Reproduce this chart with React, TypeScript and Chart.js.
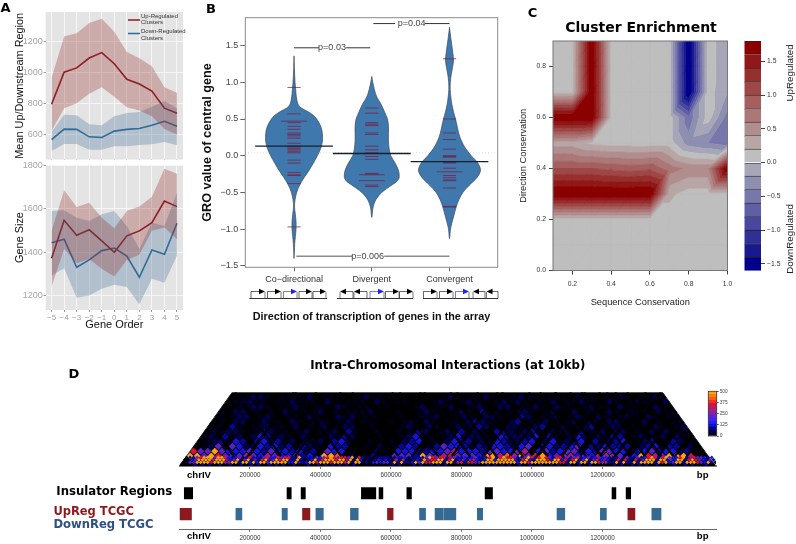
import React, { useEffect, useRef } from "react";
import { Chart, registerables } from "chart.js";

Chart.register(...registerables);

/* ---------- Panel A ---------- */
const GENE_ORDER = [-5, -4, -3, -2, -1, 0, 1, 2, 3, 4, 5];
const UP_MEAN = [793, 1000, 1028, 1092, 1127, 1055, 955, 924, 878, 768, 735];
const UP_HIGH = [965, 1231, 1252, 1318, 1345, 1262, 1131, 1090, 1038, 903, 868];
const UP_LOW = [623, 768, 800, 861, 903, 841, 774, 753, 716, 633, 598];
const DOWN_MEAN = [565, 633, 631, 583, 579, 620, 631, 637, 658, 683, 652];
const DOWN_HIGH = [616, 726, 722, 664, 658, 716, 737, 743, 778, 814, 768];
const DOWN_LOW = [492, 537, 537, 500, 500, 523, 523, 531, 535, 550, 529];
const SIZE_UP_MEAN = [1373, 1548, 1479, 1504, 1453, 1400, 1476, 1499, 1537, 1637, 1611];
const SIZE_UP_HIGH = [1499, 1687, 1609, 1629, 1560, 1511, 1591, 1611, 1657, 1786, 1763];
const SIZE_UP_LOW = [1243, 1415, 1350, 1369, 1324, 1289, 1365, 1389, 1500, 1515, 1460];
const SIZE_DOWN_MEAN = [1444, 1461, 1331, 1365, 1408, 1420, 1383, 1285, 1411, 1391, 1534];
const SIZE_DOWN_HIGH = [1591, 1594, 1560, 1545, 1576, 1591, 1522, 1415, 1537, 1522, 1675];
const SIZE_DOWN_LOW = [1293, 1327, 1191, 1201, 1232, 1250, 1240, 1160, 1278, 1260, 1385];
const A_TOP_TICKS = [600, 800, 1000, 1200];
const A_BOTTOM_TICKS = [1200, 1400, 1600, 1800];

/* ---------- Panel B ---------- */
const B_CATEGORIES = ["Co\u2212directional", "Divergent", "Convergent"];
const B_Y_TICKS = [-1.5, -1, -0.5, 0, 0.5, 1, 1.5];
const V1_Y = [1.36, 1.2, 1.0, 0.9, 0.8, 0.7, 0.65, 0.6, 0.55, 0.5, 0.4, 0.3, 0.2, 0.1, 0, -0.1, -0.2, -0.3, -0.4, -0.5, -0.6, -0.7, -0.8, -0.9, -1.0, -1.1, -1.2, -1.3, -1.4];
const V1_D = [0, 1, 3, 5, 7, 12, 22, 42, 58, 68, 80, 85, 85, 80, 70, 58, 45, 30, 17, 8, 3, 1.5, 4, 6, 6, 4, 2, 1, 0];
const V2_Y = [1.08, 1.0, 0.9, 0.8, 0.7, 0.6, 0.5, 0.4, 0.3, 0.2, 0.1, 0, -0.1, -0.2, -0.3, -0.35, -0.4, -0.5, -0.6, -0.7, -0.84];
const V2_D = [0, 3, 8, 15, 28, 38, 47, 50, 50, 50, 52, 57, 70, 80, 82, 75, 60, 30, 12, 4, 0];
const V3_Y = [1.75, 1.6, 1.4, 1.3, 1.2, 1.1, 1.0, 0.9, 0.8, 0.7, 0.6, 0.5, 0.4, 0.3, 0.2, 0.1, 0, -0.1, -0.2, -0.3, -0.4, -0.5, -0.6, -0.7, -0.8, -0.9, -1.0, -1.13];
const V3_D = [0, 4, 10, 12, 9, 5, 2.5, 2, 4, 7, 12, 18, 23, 28, 36, 48, 65, 85, 93, 82, 60, 40, 28, 20, 14, 8, 3, 0];
const OBS_1 = [0.93, 0.57, 0.45, 0.4, 0.36, 0.31, 0.29, 0.27, 0.24, 0.17, 0.13, 0.12, 0.1, 0.08, 0.06, 0.04, -0.06, -0.1, -0.23, -0.26, -0.27, -0.38, -0.97];
const OBS_1_WIDE = [0.47];
const OBS_2 = [0.65, 0.58, 0.45, 0.43, 0.41, 0.31, 0.29, 0.13, 0.08, 0.04, 0.03, -0.01, -0.05, -0.24, -0.25, -0.4, -0.42];
const OBS_2_WIDE = [-0.26, -0.34];
const OBS_3 = [1.32, 0.5, 0.31, 0.22, 0.09, 0, -0.01, -0.02, -0.08, -0.09, -0.1, -0.17, -0.27, -0.3, -0.33, -0.34, -0.44, -0.69, -0.7];
const OBS_3_WIDE = [-0.22];
const B_MEANS = [0.13, 0.03, -0.08];
const B_REFERENCE = 0.04;

/* ---------- Panel C ---------- */
const SEQ_CONS = [0.1, 0.2, 0.3, 0.4, 0.5, 0.6, 0.7, 0.8, 0.9, 1.0];
const DIR_CONS = [0, 0.1, 0.2, 0.3, 0.4, 0.5, 0.6, 0.7, 0.8, 0.9];
const ENRICH_00 = [0.1, 0.1, 0.1, 0.1, 0.1, 0.1, 0.1, 0.1, 0.1, 0.1];
const ENRICH_01 = [0.1, 0.1, 0.1, 0.1, 0.1, 0.1, 0.1, 0.1, 0.1, 0.1];
const ENRICH_02 = [0.1, 0.1, 0.1, 0.1, 0.1, 0.1, 0.1, 0.1, 0.1, 0.1];
const ENRICH_03 = [1.85, 1.85, 1.85, 1.85, 1.85, 1.85, 0.25, 0.1, 0.1, 0.1];
const ENRICH_04 = [1.0, 1.0, 1.0, 0.95, 0.9, 0.95, 0.7, 0.55, 0.55, 1.85];
const ENRICH_05 = [0.3, 0.3, 0.15, 0.1, 0.1, 0.1, 0.1, -0.3, -0.4, -0.5];
const ENRICH_06 = [1.85, 1.85, 1.85, 0.1, 0.1, 0.1, 0.1, -0.55, 0.1, -0.5];
const ENRICH_07 = [0.1, 0.1, 1.85, 0.1, 0.1, 0.1, 0.1, -1.7, 0.1, -0.2];
const ENRICH_08 = [0.1, 0.1, 1.85, 0.1, 0.1, 0.1, 0.1, -1.7, 0.1, -0.15];
const ENRICH_09 = [0.1, 0.1, 1.85, 0.1, 0.1, 0.1, 0.1, -1.7, 0.1, -0.15];
const ENRICH = [ENRICH_00, ENRICH_01, ENRICH_02, ENRICH_03, ENRICH_04, ENRICH_05, ENRICH_06, ENRICH_07, ENRICH_08, ENRICH_09];
const LEVELS = [-1.6, -1.4, -1.2, -1.0, -0.8, -0.6, -0.4, -0.2, 0, 0.2, 0.4, 0.6, 0.8, 1.0, 1.2, 1.4, 1.6, 1.8];
const LEVEL_COLORS = [
  "#00008b", "#181891", "#2f2f98", "#47479e", "#5f5fa5", "#7777ab", "#8e8eb1", "#a6a6b8",
  "#bebebe", "#b8a6a6", "#b18e8e", "#ab7777", "#a55f5f", "#9e4747", "#982f2f", "#911818", "#8b0000",
];
const C_TICKS = [0.2, 0.4, 0.6, 0.8, 1.0];
const C_Y_TICKS = [0, 0.2, 0.4, 0.6, 0.8];
const BAR_TICKS = [-1.5, -1, -0.5, 0, 0.5, 1, 1.5];

/* ---------- Panel D ---------- */
const BP_TICKS = [200000, 400000, 600000, 800000, 1000000, 1200000];
const INSULATORS = [[13600, 37400], [305000, 317000], [345000, 357000], [516000, 557000], [566000, 577000], [645000, 658000], [867000, 888000], [1227000, 1238000], [1267000, 1280000]];
const UP_TCGC = [[1000, 34000], [349000, 370000], [590000, 606000], [1272000, 1292000]];
const DOWN_TCGC = [[160000, 177000], [291000, 306000], [387000, 408000], [485000, 507000], [681000, 698000], [725000, 748000], [750000, 784000], [845000, 860000], [1071000, 1093000], [1194000, 1211000], [1340000, 1366000]];
const HEAT_LEVELS = ["#000000", "#000018", "#00004c", "#060694", "#1414dc", "#5a20c8", "#a02088", "#e01030", "#ff5a10", "#ffa010"];
const HEAT_LEGEND = ["#000020", "#000050", "#000090", "#1010d0", "#2020ff", "#4020ff", "#6020d8", "#8020b0", "#a02088", "#c01860", "#e01030", "#f03020", "#ff5a10", "#ff8010", "#ffa010"];
const HEAT_TICKS = [0, 125, 250, 375, 500];
const HEAT_FINE = [
  "0001303030 0300300301 3030130303 0030013013 0303031303 0000110110 3030013031 1303030011 0111001303 0303003013 0030030310 3003003011 1003030030 3030031000 300303101300",
  "1255999979 9966993994 9499599999 4494349979 9979997929 9232454553 9393349597 7999399367 3775599999 9999949979 9999999773 9939939966 6339393393 9999397945 993999754931",
  "0145999969 9954592593 5379459799 3393234947 9997995929 4121343432 6362234395 7799379345 3564349949 9999437943 9997499473 7935935745 4237273273 5999399454 99379754352",
  "0335799959 9743452373 3357447577 3293233545 7975775927 3121233322 4342233359 7577355334 3453337937 9775335973 7975377353 5734534544 3235253253 4797379544 7935755434",
];
const HEAT_COARSE_2 = "9959755565 4654453419 9802013115 5539556755 5499686957 9456645476 6514976599 9710";
const HEAT_COARSE_3 = "7559544454 3534342305 4401002104 4423445644 4355445604 5345524355 4403453442 310";
const HEAT_COARSE_4 = "0125154224 3423132104 3300102013 4302354431 3244324503 4234513243 3302340331 20";
const HEAT_COARSE_5 = "0123143034 2312021203 4200100102 3401024331 2143223402 4123403123 4012301320 1";
const HEAT_COARSE_6 = "1213120243 1210210121 3200010012 4110124222 1043222403 1024212133 0120120210";
const HEAT_COARSE_7 = "0212210132 1101201120 3100100101 3201213121 0332123102 1203112022 010212011";
const HEAT_COARSE_8 = "1103101221 1020112012 2001000121 0210121232 1022112301 2012301220 11021012";
const HEAT_COARSE_9 = "0102201211 0210121012 0110010120 2101102321 1023011201 1202102210 1201011";
const HEAT_COARSE_10 = "1012201210 1102100212 0110001001 1210121022 1013201120 1210210121 021011";
const HEAT_COARSE_11 = "1022110102 1011201011 1200010012 1101210311 0122101201 2011021021 10211";
const HEAT_COARSE_12 = "0011221011 2101102101 1001000120 1120012102 2011210211 0121102110 1210";
const HEAT_COARSE_13 = "0122110112 1110210111 0210110001 2101211012 1210112011 2110210121 102";
const HEAT_COARSE_14 = "0112210111 1201110012 1101001000 1210112101 1211011102 1101121011 21";
const HEAT_COARSE = [HEAT_COARSE_2, HEAT_COARSE_3, HEAT_COARSE_4, HEAT_COARSE_5, HEAT_COARSE_6, HEAT_COARSE_7, HEAT_COARSE_8, HEAT_COARSE_9, HEAT_COARSE_10, HEAT_COARSE_11, HEAT_COARSE_12, HEAT_COARSE_13, HEAT_COARSE_14];
const HEAT_OUTLINE = [[0, 0], [150000, 15], [1370000, 15], [1520000, 0]];
const DOMAIN_BOUNDARIES = [174000, 308000, 478000, 535000, 640000, 753000, 844000, 918000, 994000, 1065000, 1173000, 1216000, 1258000, 1298000, 1340000, 1386000, 1420000];
const CHR_END = 1522000;

/* ---------- gene glyphs under panel B (start, end, highlighted) ---------- */
const GENE_GROUPS = [
  { base: [249.5, 327], genes: [[251, 265, 0], [267.5, 281, 0], [283.5, 297, 1], [299, 312, 0], [313, 326, 0]] },
  { base: [337, 413], genes: [[353, 340, 0], [367, 354, 0], [370, 384, 1], [385.5, 399, 0], [399.5, 413, 0]] },
  { base: [423, 498], genes: [[423.5, 437, 0], [439.5, 453, 0], [455.5, 469, 1], [485, 473, 0], [498, 486.5, 0]] },
];

const SANS = "'Liberation Sans', Arial, sans-serif";
const DEJA = "'DejaVu Sans', sans-serif";

/* ---------- helpers ---------- */
const xy = (xs: number[], ys: number[]) => xs.map((x, i) => ({ x, y: ys[i] }));
const fixedTicks = (list: number[]) => (s: any) => {
  s.ticks = list.map((value) => ({ value }));
};
const fitW = (w: number) => (s: any) => {
  s.width = w;
};
const fitH = (h: number) => (s: any) => {
  s.height = h;
};

const panelBg = {
  id: "panelBg",
  beforeDraw(chart: any, _a: any, o: any) {
    if (!o.color) return;
    const { left, top, width, height } = chart.chartArea;
    chart.ctx.fillStyle = o.color;
    chart.ctx.fillRect(left, top, width, height);
  },
};
const frame = {
  id: "frame",
  afterDatasetsDraw(chart: any, _a: any, o: any) {
    if (!o.color) return;
    const { left, top, width, height } = chart.chartArea;
    chart.ctx.save();
    chart.ctx.strokeStyle = o.color;
    chart.ctx.lineWidth = o.width || 1;
    chart.ctx.strokeRect(left, top, width, height);
    chart.ctx.restore();
  },
};

function clipAbove(p: number[][], level: number, sign: number) {
  const out: number[][] = [];
  for (let i = 0; i < p.length; i++) {
    const a = p[i];
    const b = p[(i + 1) % p.length];
    const ina = sign * (a[2] - level) >= 0;
    const inb = sign * (b[2] - level) >= 0;
    if (ina) out.push(a);
    if (ina !== inb) {
      const t = (level - a[2]) / (b[2] - a[2]);
      out.push([a[0] + t * (b[0] - a[0]), a[1] + t * (b[1] - a[1]), level]);
    }
  }
  return out;
}
const contour = {
  id: "contour",
  beforeDatasetsDraw(chart: any) {
    const { ctx, scales } = chart;
    const { left, top, width, height } = chart.chartArea;
    ctx.save();
    ctx.beginPath();
    ctx.rect(left, top, width, height);
    ctx.clip();
    ctx.lineWidth = 0.6;
    ctx.lineJoin = "round";
    LEVEL_COLORS.forEach((color, k) => {
      const lo = k === 0 ? -9 : LEVELS[k];
      const hi = k === LEVEL_COLORS.length - 1 ? 9 : LEVELS[k + 1];
      ctx.beginPath();
      for (let j = 0; j < DIR_CONS.length - 1; j++) {
        for (let i = 0; i < SEQ_CONS.length - 1; i++) {
          const P = (a: number, b: number) => [
            scales.x.getPixelForValue(SEQ_CONS[a]),
            scales.y.getPixelForValue(DIR_CONS[b]),
            ENRICH[b][a],
          ];
          const tris = [
            [P(i, j), P(i + 1, j), P(i + 1, j + 1)],
            [P(i, j), P(i + 1, j + 1), P(i, j + 1)],
          ];
          tris.forEach((t) => {
            let poly = clipAbove(t, lo, 1);
            if (poly.length) poly = clipAbove(poly, hi, -1);
            if (poly.length < 3) return;
            ctx.moveTo(poly[0][0], poly[0][1]);
            poly.slice(1).forEach((q) => ctx.lineTo(q[0], q[1]));
            ctx.closePath();
          });
        }
      }
      ctx.fillStyle = color;
      ctx.strokeStyle = color;
      ctx.fill();
      ctx.stroke();
    });
    ctx.restore();
  },
};

const violin = (center: number, ys: number[], ds: number[]) => {
  const left = ys.map((y, i) => ({ x: center - ds[i] / 233, y }));
  const right = ys.map((y, i) => ({ x: center + ds[i] / 233, y })).reverse();
  return [...left, ...right.slice(1)];
};
const segments = (center: number, ys: number[], half: number) =>
  ys.flatMap((y) => [{ x: center - half, y }, { x: center + half, y }, { x: NaN, y: NaN }]);

const P_LINES = [
  { y: 1.47, a: [1, 1.32], b: [1.67, 1.98], c: "#333", w: 1 },
  { y: 1.8, a: [2.02, 2.3], b: [2.68, 3], c: "#333", w: 1 },
  { y: -1.37, a: [1.03, 1.75], b: [2.16, 3], c: "#8c8c8c", w: 1.6 },
];

const CANVASES: Record<string, { x: number; y: number; w: number; h: number }> = {
  aTop: { x: 0, y: 0, w: 190, h: 166 },
  aBottom: { x: 0, y: 155, w: 190, h: 180 },
  b: { x: 200, y: 0, w: 300, h: 330 },
  c: { x: 500, y: 0, w: 282, h: 315 },
  bar: { x: 740, y: 30, w: 56, h: 250 },
  heat: { x: 150, y: 350, w: 596, h: 140 },
  heatLegend: { x: 703, y: 385, w: 40, h: 58 },
  tracks: { x: 150, y: 480, w: 596, h: 64 },
};

function buildConfigs(): Record<string, any> {
  const RED = "#8b1a1f";
  const BLUE = "#2f6a96";
  const RED_F = "rgba(150,40,40,0.30)";
  const BLUE_F = "rgba(60,110,150,0.30)";
  const lineSet = (
    uh: number[], ul: number[], um: number[], dh: number[], dl: number[], dm: number[],
  ) => [
    { data: xy(GENE_ORDER, uh), fill: "+1", backgroundColor: RED_F, borderWidth: 0, pointRadius: 0 },
    { data: xy(GENE_ORDER, ul), borderWidth: 0, pointRadius: 0 },
    { data: xy(GENE_ORDER, dh), fill: "+1", backgroundColor: BLUE_F, borderWidth: 0, pointRadius: 0 },
    { data: xy(GENE_ORDER, dl), borderWidth: 0, pointRadius: 0 },
    { data: xy(GENE_ORDER, um), borderColor: RED, borderWidth: 1.6, pointRadius: 0 },
    { data: xy(GENE_ORDER, dm), borderColor: BLUE, borderWidth: 1.6, pointRadius: 0 },
  ];
  const aScales = (ticks: number[], min: number, max: number, title: string, titlePad: number, mb: number, showX: boolean) => ({
    x: {
      type: "linear",
      min: -5.47,
      max: 5.48,
      afterBuildTicks: fixedTicks(GENE_ORDER),
      afterFit: fitH(mb),
      border: { display: false },
      grid: { color: "#f6f6f6", lineWidth: 1, tickLength: showX ? 2 : 0, tickColor: "#999" },
      ticks: {
        display: showX,
        autoSkip: false,
        maxRotation: 0,
        font: { family: SANS, size: 8 },
        color: "#a0a0a0",
        padding: 1,
        callback: (v: number) => (v < 0 ? "\u2212" + Math.abs(v) : String(v)),
      },
      title: showX
        ? { display: true, text: "Gene Order", font: { family: SANS, size: 11 }, color: "#111", padding: { top: 0, bottom: 3 } }
        : { display: false },
    },
    y: {
      min,
      max,
      afterBuildTicks: fixedTicks(ticks),
      afterFit: fitW(45.7),
      border: { display: false },
      grid: { color: "#f6f6f6", lineWidth: 1, tickLength: 2, tickColor: "#999" },
      ticks: { font: { family: SANS, size: 9 }, color: "#a6a6a6", padding: 1, callback: (v: number) => String(v) },
      title: { display: true, text: title, font: { family: SANS, size: 10.9 }, color: "#111", padding: { top: titlePad, bottom: 0 } },
    },
  });
  const base = {
    responsive: false,
    animation: false,
    events: [],
    plugins: { legend: { display: false }, tooltip: { enabled: false } },
  };
  const withPlugins = (p: any) => ({ ...base.plugins, ...p });

  const heatFinePts: any[] = [];
  const heatFineCols: string[] = [];
  HEAT_FINE.forEach((row, r) => {
    row.replace(/ /g, "").split("").forEach((ch, i) => {
      heatFinePts.push({ x: (i + 0.5 + r / 2) * 10000, y: (r + 0.5) * 0.5 });
      heatFineCols.push(HEAT_LEVELS[+ch]);
    });
  });
  const heatCoarsePts: any[] = [];
  const heatCoarseCols: string[] = [];
  HEAT_COARSE.forEach((row, k) => {
    const r = k + 2;
    row.replace(/ /g, "").split("").slice(0, 76 - r).forEach((ch, c) => {
      heatCoarsePts.push({ x: (c + 0.5 + r / 2) * 20000, y: r });
      heatCoarseCols.push(HEAT_LEVELS[+ch]);
    });
  });
  const domainVs = DOMAIN_BOUNDARIES.map((b) => {
    const up = Math.min(15, b / 20000);
    const ur = Math.min(15, (1520000 - b) / 20000);
    return [{ x: b - up * 10000, y: up }, { x: b, y: 0 }, { x: b + ur * 10000, y: ur }];
  });

  const bpAxis = (mb: number, borderColor: string, borderW: number) => ({
    type: "linear",
    min: 0,
    max: CHR_END,
    afterBuildTicks: fixedTicks(BP_TICKS),
    afterFit: fitH(mb),
    border: { display: true, color: borderColor, width: borderW },
    grid: { drawOnChartArea: false, tickLength: 3, tickColor: "#555", tickWidth: 0.8 },
    ticks: { font: { family: SANS, size: 6.3 }, color: "#333", padding: 2, maxRotation: 0, autoSkip: false, callback: (v: number) => String(v) },
  });

  const trackBars = (list: number[][], yv: number, color: string) =>
    list.map(([s, e]) => ({
      data: [{ x: [s, e], y: yv }],
      backgroundColor: color,
      borderWidth: 0,
      barThickness: 11.5,
      grouped: false,
    }));

  return {
    aTop: {
      type: "line",
      data: { datasets: lineSet(UP_HIGH, UP_LOW, UP_MEAN, DOWN_HIGH, DOWN_LOW, DOWN_MEAN) },
      plugins: [panelBg],
      options: {
        ...base,
        layout: { autoPadding: false, padding: { top: 12, right: 7, left: 0, bottom: 0 } },
        plugins: withPlugins({ panelBg: { color: "#e4e4e4" } }),
        scales: aScales(A_TOP_TICKS, 436, 1389, "Mean Up/Downstream Region", 13, 1, false),
      },
    },
    aBottom: {
      type: "line",
      data: { datasets: lineSet(SIZE_UP_HIGH, SIZE_UP_LOW, SIZE_UP_MEAN, SIZE_DOWN_HIGH, SIZE_DOWN_LOW, SIZE_DOWN_MEAN) },
      plugins: [panelBg],
      options: {
        ...base,
        layout: { autoPadding: false, padding: { top: 10, right: 7, left: 0, bottom: 0 } },
        plugins: withPlugins({ panelBg: { color: "#e4e4e4" } }),
        scales: aScales(A_BOTTOM_TICKS, 1134, 1803, "Gene Size", 13, 25, true),
      },
    },
    b: {
      type: "scatter",
      data: {
        datasets: [
          { data: [{ x: 0.37, y: B_REFERENCE }, { x: 3.62, y: B_REFERENCE }], showLine: true, borderColor: "#ddd", borderWidth: 1, borderDash: [1, 2], pointRadius: 0, order: 6 },
          ...[violin(1, V1_Y, V1_D), violin(2, V2_Y, V2_D), violin(3, V3_Y, V3_D)].map((d) => ({
            data: d, showLine: true, fill: "shape", tension: 0.3, backgroundColor: "#3f78ad", borderColor: "#3b4a58", borderWidth: 0.7, pointRadius: 0, order: 5,
          })),
          ...[
            segments(1, OBS_1, 0.085), segments(1, OBS_1_WIDE, 0.165),
            segments(2, OBS_2, 0.085), segments(2, OBS_2_WIDE, 0.165),
            segments(3, OBS_3, 0.085), segments(3, OBS_3_WIDE, 0.165),
          ].map((d) => ({ data: d, showLine: true, borderColor: "rgba(125,25,60,0.72)", borderWidth: 1, pointRadius: 0, order: 4 })),
          ...B_MEANS.map((m, i) => ({
            data: [{ x: i + 0.5, y: m }, { x: i + 1.5, y: m }], showLine: true, borderColor: "#14202c", borderWidth: 1.3, pointRadius: 0, order: 3,
          })),
          ...P_LINES.map((p) => ({
            data: [{ x: p.a[0], y: p.y }, { x: p.a[1], y: p.y }, { x: NaN, y: NaN }, { x: p.b[0], y: p.y }, { x: p.b[1], y: p.y }],
            showLine: true, borderColor: p.c, borderWidth: p.w, pointRadius: 0, order: 2,
          })),
        ],
      },
      plugins: [frame],
      options: {
        ...base,
        layout: { autoPadding: false, padding: { top: 17.7, right: 2.3, left: 0, bottom: 0 } },
        plugins: withPlugins({ frame: { color: "#8a8a8a", width: 1 } }),
        scales: {
          x: {
            type: "linear", min: 0.373, max: 3.62,
            afterBuildTicks: fixedTicks([1, 2, 3]),
            afterFit: fitH(62.7),
            border: { display: false },
            grid: { drawOnChartArea: false, tickLength: 4, tickColor: "#666" },
            ticks: { font: { family: SANS, size: 9 }, color: "#333", padding: 3, maxRotation: 0, autoSkip: false, callback: (v: number) => B_CATEGORIES[v - 1] },
            title: { display: true, text: "Direction of transcription of genes in the array", font: { family: SANS, size: 10.8, weight: "bold" }, color: "#111", padding: { top: 0, bottom: 6 } },
          },
          y: {
            min: -1.52, max: 1.88,
            afterBuildTicks: fixedTicks(B_Y_TICKS),
            afterFit: fitW(45.3),
            border: { display: false },
            grid: { drawOnChartArea: false, tickLength: 5, tickColor: "#666" },
            ticks: { font: { family: SANS, size: 9 }, color: "#444", padding: 2, callback: (v: number) => (v < 0 ? "\u2212" + Math.abs(v).toFixed(1) : v.toFixed(1)) },
            title: { display: true, text: "GRO value of central gene", font: { family: SANS, size: 12.7, weight: "bold" }, color: "#111", padding: { top: 0, bottom: 0 } },
          },
        },
      },
    },
    c: {
      type: "scatter",
      data: { datasets: [{ data: [], pointRadius: 0 }] },
      plugins: [contour, frame],
      options: {
        ...base,
        layout: { autoPadding: false, padding: { top: 0, right: 0, left: 0, bottom: 0 } },
        plugins: withPlugins({
          frame: { color: "#777", width: 1 },
          title: { display: true, text: "Cluster Enrichment", font: { family: DEJA, size: 14, weight: "bold" }, color: "#000", padding: { top: 20, bottom: 4.2 } },
        }),
        scales: {
          x: {
            type: "linear", min: 0.1, max: 1.0,
            afterBuildTicks: fixedTicks(C_TICKS),
            afterFit: fitH(44.5),
            border: { display: false },
            grid: { drawOnChartArea: false, tickLength: 4, tickColor: "#444" },
            ticks: { font: { family: SANS, size: 6.8 }, color: "#333", padding: 6, maxRotation: 0, autoSkip: false, callback: (v: number) => v.toFixed(1) },
            title: { display: true, text: "Sequence Conservation", font: { family: SANS, size: 9.3 }, color: "#222", padding: { top: 0, bottom: 7 } },
          },
          y: {
            min: 0, max: 0.9,
            afterBuildTicks: fixedTicks(C_Y_TICKS),
            afterFit: fitW(53),
            border: { display: false },
            grid: { drawOnChartArea: false, tickLength: 4, tickColor: "#444" },
            ticks: { font: { family: SANS, size: 6.8 }, color: "#333", padding: 3, callback: (v: number) => v.toFixed(1) },
            title: { display: true, text: "Direction Conservation", font: { family: SANS, size: 9.3 }, color: "#222", padding: { top: 17.6, bottom: 0 } },
          },
          rightGap: {
            axis: "y", position: "right", display: true, min: 0, max: 0.9,
            afterFit: fitW(54.5),
            border: { display: false },
            grid: { display: false },
            ticks: { display: false },
          },
        },
      },
    },
    bar: {
      type: "bar",
      data: {
        labels: [""],
        datasets: LEVEL_COLORS.map((color, k) => ({
          data: [[LEVELS[k], LEVELS[k + 1]]],
          backgroundColor: color,
          borderColor: "#222",
          borderWidth: { top: 0.8, bottom: 0, left: 0, right: 0 },
          borderSkipped: false,
          barPercentage: 1,
          categoryPercentage: 1,
          grouped: false,
        })),
      },
      options: {
        ...base,
        layout: { autoPadding: false, padding: { top: 11, left: 4.3, right: 0, bottom: 9.3 } },
        scales: {
          x: { display: false },
          y: {
            position: "right", min: -1.6, max: 1.8,
            afterBuildTicks: fixedTicks(BAR_TICKS),
            afterFit: fitW(35),
            border: { display: false },
            grid: { drawOnChartArea: false, tickLength: 4, tickColor: "#444" },
            ticks: { font: { family: SANS, size: 6.8 }, color: "#333", padding: 2, callback: (v: number) => (v < 0 ? "\u2212" + Math.abs(v).toFixed(1) : v.toFixed(1)) },
          },
        },
      },
    },
    heat: {
      type: "scatter",
      data: {
        datasets: [
          { data: xy(HEAT_OUTLINE.map((p) => p[0]), HEAT_OUTLINE.map((p) => p[1])), showLine: true, fill: "shape", backgroundColor: "#000", borderColor: "#2a2a2a", borderWidth: 1, pointRadius: 0, order: 5 },
          { data: heatCoarsePts, pointStyle: "rectRot", pointRadius: 3.6, pointBorderWidth: 0, pointBackgroundColor: heatCoarseCols, order: 4 },
          ...domainVs.map((d) => ({ data: d, showLine: true, borderColor: "rgba(0,0,0,0.88)", borderWidth: 2.2, pointRadius: 0, order: 3 })),
          { data: heatFinePts, pointStyle: "rectRot", pointRadius: 1.9, pointBorderWidth: 0, pointBackgroundColor: heatFineCols, order: 1 },
        ],
      },
      options: {
        ...base,
        layout: { autoPadding: false, padding: { top: 0, right: 30, left: 29.5, bottom: 0 } },
        plugins: withPlugins({
          title: { display: true, text: "Intra-Chromosomal Interactions (at 10kb)", font: { family: DEJA, size: 11.7, weight: "bold" }, color: "#000", padding: { top: 9.4, bottom: 18.7 } },
        }),
        scales: {
          x: bpAxis(24, "#7a7a7a", 2),
          y: { display: false, min: 0, max: 15 },
        },
      },
    },
    heatLegend: {
      type: "bar",
      data: {
        labels: [""],
        datasets: HEAT_LEGEND.map((color, k) => ({
          data: [[(k * 500) / HEAT_LEGEND.length, ((k + 1) * 500) / HEAT_LEGEND.length]],
          backgroundColor: color,
          borderWidth: 0,
          barPercentage: 1,
          categoryPercentage: 1,
          grouped: false,
        })),
      },
      plugins: [frame],
      options: {
        ...base,
        layout: { autoPadding: false, padding: { top: 6.3, left: 5.3, right: 0, bottom: 7 } },
        plugins: withPlugins({ frame: { color: "#333", width: 0.8 } }),
        scales: {
          x: { display: false },
          y: {
            position: "right", min: 0, max: 500,
            afterBuildTicks: fixedTicks(HEAT_TICKS),
            afterFit: fitW(26.3),
            border: { display: false },
            grid: { drawOnChartArea: false, tickLength: 2, tickColor: "#555" },
            ticks: { font: { family: SANS, size: 4.8 }, color: "#444", padding: 1 },
          },
        },
      },
    },
    tracks: {
      type: "bar",
      data: {
        datasets: [
          ...trackBars(INSULATORS, 1.7, "#000"),
          ...trackBars(UP_TCGC, 0.705, "#8b1a1f"),
          ...trackBars(DOWN_TCGC, 0.705, "#356a92"),
        ],
      },
      options: {
        ...base,
        indexAxis: "y",
        layout: { autoPadding: false, padding: { top: 0, right: 30, left: 29.5, bottom: 0 } },
        scales: {
          x: bpAxis(15, "#666", 1),
          y: { type: "linear", display: false, min: 0, max: 2.333, offset: false },
        },
      },
    },
  };
}

const TEXTS: { t: string; x: number; y: number; s: number; f?: string; b?: boolean; c?: string; r?: number }[] = [
  { t: "A", x: 5.5, y: 6.5, s: 13, f: DEJA, b: true },
  { t: "B", x: 211, y: 7.5, s: 13, f: DEJA, b: true },
  { t: "C", x: 532.5, y: 11.5, s: 13, f: DEJA, b: true },
  { t: "D", x: 74, y: 373, s: 13, f: DEJA, b: true },
  { t: "p=0.03", x: 332, y: 47, s: 9, c: "#444" },
  { t: "p=0.04", x: 411.7, y: 23.3, s: 9, c: "#444" },
  { t: "p=0.006", x: 367.7, y: 256, s: 9, c: "#444" },
  { t: "UpRegulated", x: 790, y: 73, s: 9.8, c: "#222", r: -90 },
  { t: "DownRegulated", x: 790, y: 239, s: 9.8, c: "#222", r: -90 },
  { t: "chrIV", x: 199, y: 475, s: 9.6, b: true },
  { t: "bp", x: 702.7, y: 475, s: 9.6, b: true },
  { t: "chrIV", x: 199, y: 535.7, s: 9.6, b: true },
  { t: "bp", x: 702.7, y: 535.7, s: 9.6, b: true },
  { t: "Insulator Regions", x: 114.3, y: 491.7, s: 11.7, f: DEJA, b: true },
  { t: "UpReg TCGC", x: 93.7, y: 511.7, s: 11.5, f: DEJA, b: true, c: "#8b1a1f" },
  { t: "DownReg TCGC", x: 103.5, y: 525, s: 11.6, f: DEJA, b: true, c: "#2f4f8a" },
];
const LEGEND_ROWS = [
  { color: "#8b1a1f", y: 20, lines: ["Up-Regulated", "Clusters"], ty: [16.5, 22.7] },
  { color: "#2f6a96", y: 33.5, lines: ["Down-Regulated", "Clusters"], ty: [31, 38] },
];

export default function App() {
  const refs = useRef<Record<string, HTMLCanvasElement | null>>({});
  useEffect(() => {
    const configs = buildConfigs();
    const charts = Object.keys(configs).map((k) => new Chart(refs.current[k] as HTMLCanvasElement, configs[k]));
    return () => charts.forEach((c) => c.destroy());
  }, []);
  return (
    <div style={{ position: "absolute", left: 0, top: 0, width: 796, height: 544, overflow: "hidden", background: "#fff", filter: "blur(0.45px)" }}>
      {Object.entries(CANVASES).map(([k, r]) => (
        <canvas
          key={k}
          ref={(el) => {
            refs.current[k] = el;
          }}
          width={r.w}
          height={r.h}
          style={{ position: "absolute", left: r.x, top: r.y, width: r.w, height: r.h }}
        />
      ))}
      <svg width={796} height={544} style={{ position: "absolute", left: 0, top: 0, pointerEvents: "none" }}>
        {GENE_GROUPS.map((g, i) => (
          <g key={i}>
            <line x1={g.base[0]} x2={g.base[1]} y1={298.5} y2={298.5} stroke="#333" strokeWidth={1} />
            {g.genes.map(([a, b, hi], j) => {
              const c = hi ? "#3a3aff" : "#222";
              const dir = b > a ? 1 : -1;
              return (
                <g key={j}>
                  <polyline points={`${a},298 ${a},291.5 ${b - dir * 4},291.5`} fill="none" stroke={c} strokeWidth={0.7} />
                  <polygon points={`${b},291.5 ${b - dir * 6},288.7 ${b - dir * 6},294.3`} fill={hi ? "#2222ee" : "#000"} />
                  <line x1={b} x2={b} y1={292} y2={298} stroke="#222" strokeWidth={0.6} />
                </g>
              );
            })}
          </g>
        ))}
        {LEGEND_ROWS.map((l, i) => (
          <line key={i} x1={128} x2={140} y1={l.y} y2={l.y} stroke={l.color} strokeWidth={1.5} />
        ))}
      </svg>
      {LEGEND_ROWS.flatMap((l, i) =>
        l.lines.map((t, j) => (
          <div key={`${i}${j}`} style={{ position: "absolute", left: 141, top: l.ty[j] - 3.5, fontFamily: SANS, fontSize: 6, lineHeight: "7px", color: "#333", whiteSpace: "nowrap" }}>
            {t}
          </div>
        )),
      )}
      {TEXTS.map((t, i) => (
        <div
          key={i}
          style={{
            position: "absolute",
            left: t.x,
            top: t.y,
            transform: `translate(-50%,-50%)${t.r ? ` rotate(${t.r}deg)` : ""}`,
            fontFamily: t.f || SANS,
            fontSize: t.s,
            fontWeight: t.b ? "bold" : "normal",
            color: t.c || "#000",
            lineHeight: 1,
            whiteSpace: "nowrap",
          }}
        >
          {t.t}
        </div>
      ))}
    </div>
  );
}
